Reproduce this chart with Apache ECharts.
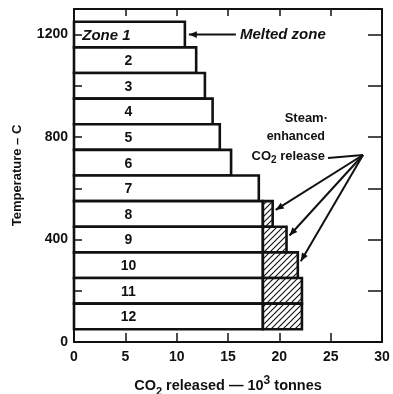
<!DOCTYPE html>
<html>
<head>
<meta charset="utf-8">
<script src="https://cdn.jsdelivr.net/npm/echarts@6/dist/echarts.min.js"></script>
<style>
  html, body { margin: 0; padding: 0; background: #fff; }
  #chart { width: 393px; height: 394px; }
</style>
</head>
<body>
<div id="chart"></div>
<script>
// Temperature zones of the heated rock column, hottest at the top
const zoneNames = ['Zone 1', '2', '3', '4', '5', '6', '7', '8', '9', '10', '11', '12'];
const zoneLowTemp = [1150, 1050, 950, 850, 750, 650, 550, 450, 350, 250, 150, 50];
const zoneHighTemp = [1250, 1150, 1050, 950, 850, 750, 650, 550, 450, 350, 250, 150];
// CO2 released (10^3 tonnes): thermal release and the extra steam-enhanced part
const thermalRelease = [10.8, 11.9, 12.75, 13.5, 14.2, 15.3, 18.0, 18.4, 18.4, 18.4, 18.4, 18.4];
const steamRelease = [0, 0, 0, 0, 0, 0, 0, 0.95, 2.3, 3.4, 3.8, 3.8];
// Axis ticks
const xTicks = [0, 5, 10, 15, 20, 25, 30];
const yTickLabels = [0, 400, 800, 1200];

const FONT = "'Liberation Sans', Arial, sans-serif";

// diagonal hatch for the steam-enhanced part
function makeHatch() {
  const s = 6;
  const c = document.createElement('canvas');
  c.width = s; c.height = s;
  const g = c.getContext('2d');
  g.fillStyle = '#fff';
  g.fillRect(0, 0, s, s);
  g.strokeStyle = '#111';
  g.lineWidth = 1.1;
  g.beginPath();
  g.moveTo(0, s); g.lineTo(s, 0);
  g.moveTo(-1, 1); g.lineTo(1, -1);
  g.moveTo(s - 1, s + 1); g.lineTo(s + 1, s - 1);
  g.stroke();
  return c;
}
const hatch = { image: makeHatch(), repeat: 'repeat' };

const data = zoneNames.map((n, i) => [zoneLowTemp[i], zoneHighTemp[i], thermalRelease[i], steamRelease[i], i]);

const chart = echarts.init(document.getElementById('chart'), null, { renderer: 'canvas' });

const axisText = { color: '#111', fontFamily: FONT, fontWeight: 'bold', fontSize: 14 };
const frameLine = { onZero: false, lineStyle: { color: '#111', width: 2 } };

const option = {
  animation: false,
  backgroundColor: '#fff',
  grid: { left: 74, right: 11, top: 9, bottom: 52, containLabel: false, outerBoundsMode: 'none' },
  xAxis: [{
    type: 'value', min: 0, max: 30, interval: 5, position: 'bottom',
    axisLine: frameLine,
    axisTick: { inside: true, length: 9, lineStyle: { color: '#111', width: 1.5 } },
    axisLabel: Object.assign({ margin: 8, formatter: v => xTicks.includes(v) ? String(v) : '' }, axisText),
    splitLine: { show: false },
    name: '{a|CO}{s|2}{a| released \u2014 10}{p|3}{a| tonnes}',
    nameLocation: 'middle', nameGap: 33,
    nameTextStyle: {
      rich: {
        a: { fontFamily: FONT, fontWeight: 'bold', fontSize: 14.5, color: '#111', verticalAlign: 'bottom', lineHeight: 18 },
        s: { fontFamily: FONT, fontWeight: 'bold', fontSize: 11, color: '#111', verticalAlign: 'bottom', padding: [0, 0, -4, 0], lineHeight: 18 },
        p: { fontFamily: FONT, fontWeight: 'bold', fontSize: 12, color: '#111', verticalAlign: 'top', lineHeight: 18 }
      }
    }
  }, {
    type: 'value', min: 0, max: 30, interval: 5, position: 'top',
    axisLine: frameLine,
    axisTick: { inside: true, length: 7, lineStyle: { color: '#111', width: 1.5 } },
    axisLabel: { show: false }, splitLine: { show: false }
  }],
  yAxis: [{
    type: 'value', min: 0, max: 1300, interval: 200, position: 'left', z: 10,
    axisLine: Object.assign({ show: true }, frameLine),
    axisTick: { show: true, inside: true, length: 8, lineStyle: { color: '#111', width: 1.5 } },
    axisLabel: Object.assign({ margin: 6, formatter: v => yTickLabels.includes(v) ? String(v) : '' }, axisText),
    splitLine: { show: false },
    name: 'Temperature \u2013 C', nameLocation: 'middle', nameGap: 50, nameRotate: 90,
    nameTextStyle: { fontFamily: FONT, fontWeight: 'bold', fontSize: 13, color: '#111' }
  }, {
    type: 'value', min: 0, max: 1300, interval: 200, position: 'right',
    axisLine: Object.assign({ show: true }, frameLine),
    axisTick: { show: true, inside: true, length: 14, lineStyle: { color: '#111', width: 1.5 } },
    axisLabel: { show: false }, splitLine: { show: false }
  }],
  series: [{
    type: 'custom',
    xAxisIndex: 0, yAxisIndex: 0,
    data: data,
    encode: { x: [2, 3], y: [0, 1] },
    renderItem: function (params, api) {
      const lo = api.value(0), hi = api.value(1);
      const base = api.value(2), steam = api.value(3);
      const idx = api.value(4);
      const tl = api.coord([0, hi]);
      const br = api.coord([base, lo]);
      const children = [{
        type: 'rect',
        shape: { x: tl[0], y: tl[1], width: br[0] - tl[0], height: br[1] - tl[1] },
        style: { fill: '#fff', stroke: '#111', lineWidth: 2.6 }
      }];
      if (steam > 0) {
        const sr = api.coord([base + steam, lo]);
        children.push({
          type: 'rect',
          shape: { x: br[0], y: tl[1], width: sr[0] - br[0], height: br[1] - tl[1] },
          style: { fill: hatch, stroke: '#111', lineWidth: 2.6 }
        });
      }
      const midY = (tl[1] + br[1]) / 2;
      const first = idx === 0;
      const lx = first ? api.coord([0.8, 0])[0] : api.coord([5.3, 0])[0];
      children.push({
        type: 'text',
        style: {
          x: lx, y: midY + 1,
          text: zoneNames[idx],
          align: first ? 'left' : 'center', verticalAlign: 'middle',
          fontFamily: FONT, fontWeight: 'bold', fontStyle: first ? 'italic' : 'normal',
          fontSize: first ? 15 : 14, fill: '#111'
        }
      });
      return { type: 'group', children: children };
    }
  }]
};
chart.setOption(option);

// Callouts, placed from the data through the axes
function px(x, y) { return chart.convertToPixel({ xAxisIndex: 0, yAxisIndex: 0 }, [x, y]); }
function arrowHead(tip, from, size) {
  const dx = tip[0] - from[0], dy = tip[1] - from[1];
  const len = Math.hypot(dx, dy);
  const ux = dx / len, uy = dy / len;
  const bx = tip[0] - ux * size, by = tip[1] - uy * size;
  const w = size * 0.42;
  return {
    type: 'polygon',
    shape: { points: [tip, [bx - uy * w, by + ux * w], [bx + uy * w, by - ux * w]] },
    style: { fill: '#111' }
  };
}
function arrow(from, tip) {
  return [
    { type: 'line', shape: { x1: from[0], y1: from[1], x2: tip[0], y2: tip[1] }, style: { stroke: '#111', lineWidth: 2 } },
    arrowHead(tip, from, 8)
  ];
}

const gfx = [];
// melted zone callout
const z1 = px(thermalRelease[0], (zoneLowTemp[0] + zoneHighTemp[0]) / 2);
const meltTip = [z1[0] + 4, z1[1]];
gfx.push(...arrow([meltTip[0] + 47, meltTip[1]], meltTip));
gfx.push({
  type: 'text',
  style: { x: meltTip[0] + 51, y: meltTip[1], text: 'Melted zone', align: 'left', verticalAlign: 'middle',
    fontFamily: FONT, fontWeight: 'bold', fontStyle: 'italic', fontSize: 15, fill: '#111' }
});

// steam-enhanced callout
const textRight = 325;
gfx.push({
  type: 'text',
  style: { x: textRight + 3, y: 118, text: 'Steam\u00b7', align: 'right', verticalAlign: 'middle',
    fontFamily: FONT, fontWeight: 'bold', fontSize: 13, fill: '#111' }
});
gfx.push({
  type: 'text',
  style: { x: textRight, y: 137, text: 'enhanced', align: 'right', verticalAlign: 'middle',
    fontFamily: FONT, fontWeight: 'bold', fontSize: 12.5, fill: '#111' }
});
gfx.push({
  type: 'text',
  style: {
    x: textRight, y: 156, align: 'right', verticalAlign: 'middle',
    text: '{a|CO}{s|2}{a| release}',
    rich: {
      a: { fontFamily: FONT, fontWeight: 'bold', fontSize: 13, fill: '#111' },
      s: { fontFamily: FONT, fontWeight: 'bold', fontSize: 10, fill: '#111', padding: [8, 0, 0, 0] }
    }
  }
});
const hub = [363, 155];
gfx.push({ type: 'line', shape: { x1: textRight + 3, y1: 158, x2: hub[0], y2: hub[1] }, style: { stroke: '#111', lineWidth: 2 } });
[7, 8, 9].forEach(i => {
  const p = px(thermalRelease[i] + steamRelease[i], (zoneLowTemp[i] + zoneHighTemp[i]) / 2);
  gfx.push(...arrow(hub, [p[0] + 3, p[1] - 4]));
});

chart.setOption({ graphic: gfx });
</script>
</body>
</html>
